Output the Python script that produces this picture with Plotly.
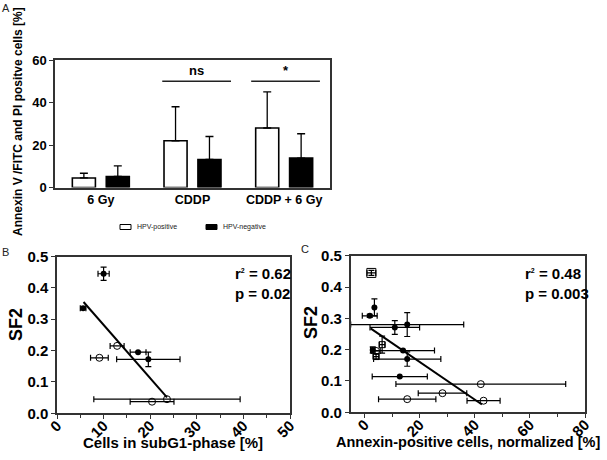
import plotly.graph_objects as go

W, H = 607, 460

# ---------------- Panel A data ----------------
a_categories = ["6 Gy", "CDDP", "CDDP + 6 Gy"]
a_hpv_pos = [4.5, 22.0, 28.0]
a_hpv_pos_err = [2.2, 16.0, 17.0]
a_hpv_neg = [5.2, 13.2, 13.8]
a_hpv_neg_err = [5.0, 10.8, 11.5]
a_sig_labels = ["ns", "*"]
a_sig_x0 = [0.67, 1.64]
a_sig_x1 = [1.42, 2.39]
a_sig_y = [50, 50]

# ---------------- Panel B data ----------------
b_filled_x = [10.0, 5.6, 17.4, 19.6]
b_filled_y = [0.445, 0.335, 0.195, 0.172]
b_filled_xerr = [1.2, 0.6, 1.7, 6.8]
b_filled_yerr = [0.021, 0.004, 0.0, 0.023]
b_open_x = [12.9, 9.1, 23.6, 20.4]
b_open_y = [0.215, 0.177, 0.045, 0.037]
b_open_xerr = [1.5, 1.9, 15.7, 4.7]
b_fit_x = [5.7, 23.6]
b_fit_y = [0.355, 0.051]
b_stats = ["r<sup><span style='font-size:7px'>2</span></sup> = 0.62", "p = 0.02"]

# ---------------- Panel C data ----------------
c_filled_x = [3.6, 1.9, 11.0, 15.5, 3.0, 14.0, 15.5, 12.8]
c_filled_y = [0.335, 0.308, 0.271, 0.280, 0.199, 0.197, 0.170, 0.114]
c_filled_xerr = [0.0, 2.7, 9.0, 20.5, 0.8, 11.4, 12.2, 10.0]
c_filled_yerr = [0.027, 0.005, 0.022, 0.038, 0.01, 0.0, 0.023, 0.0]
c_open_x = [42.2, 28.3, 15.5, 43.2, 4.2]
c_open_y = [0.090, 0.061, 0.042, 0.037, 0.196]
c_open_xerr = [30.8, 8.8, 10.4, 6.0, 1.5]
c_sq_x = [6.4, 4.2]
c_sq_y = [0.216, 0.178]
c_sq_xerr = [1.0, 1.0]
c_sq_yerr = [0.027, 0.008]
c_top_x = [2.5]
c_top_y = [0.445]
c_top_xerr = [1.6]
c_top_yerr = [0.008]
c_fit_x = [2.2, 42.6]
c_fit_y = [0.268, 0.025]
c_stats = ["r<sup><span style='font-size:7px'>2</span></sup> = 0.48", "p = 0.003"]

FONT = "Liberation Sans, Arial, sans-serif"
AX = "#333333"


def px(x):
    return x / W


def py(y):
    return 1 - y / H


fig = go.Figure()

# ---------- Panel A bars ----------
fig.add_trace(go.Bar(
    x=a_categories, y=a_hpv_pos, name="HPV-positive",
    marker=dict(color="white", line=dict(color="black", width=1.6)),
    error_y=dict(type="data", array=a_hpv_pos_err, arrayminus=[0] * 3, symmetric=False,
                 color="black", thickness=1.3, width=4),
    xaxis="x", yaxis="y", showlegend=False))
fig.add_trace(go.Bar(
    x=a_categories, y=a_hpv_neg, name="HPV-negative",
    marker=dict(color="black", line=dict(color="black", width=1.6)),
    error_y=dict(type="data", array=a_hpv_neg_err, arrayminus=[0] * 3, symmetric=False,
                 color="black", thickness=1.3, width=4),
    xaxis="x", yaxis="y", showlegend=False))

shapes = []
annotations = []
for lab, x0, x1, yv in zip(a_sig_labels, a_sig_x0, a_sig_x1, a_sig_y):
    shapes.append(dict(type="line", xref="x", yref="y", x0=x0, x1=x1, y0=yv, y1=yv,
                       line=dict(color="#222", width=1.3)))
    annotations.append(dict(xref="x", yref="y", x=(x0 + x1) / 2, y=yv, text="<b>%s</b>" % lab,
                            showarrow=False, yanchor="bottom", yshift=1,
                            font=dict(family=FONT, size=13, color="black")))

# ---------- Panel B ----------
err_style = dict(type="data", color="black", thickness=1.2, width=3)
fig.add_trace(go.Scatter(x=b_fit_x, y=b_fit_y, mode="lines", line=dict(color="black", width=2),
                         xaxis="x2", yaxis="y2", showlegend=False))
fig.add_trace(go.Scatter(
    x=b_open_x, y=b_open_y, mode="markers",
    marker=dict(symbol="circle-open", size=7, color="black", line=dict(width=1)),
    error_x=dict(array=b_open_xerr, **err_style),
    xaxis="x2", yaxis="y2", showlegend=False))
fig.add_trace(go.Scatter(
    x=b_filled_x, y=b_filled_y, mode="markers",
    marker=dict(symbol="circle", size=6, color="black"),
    error_x=dict(array=b_filled_xerr, **err_style),
    error_y=dict(array=b_filled_yerr, **err_style),
    xaxis="x2", yaxis="y2", showlegend=False))

# ---------- Panel C ----------
fig.add_trace(go.Scatter(x=c_fit_x, y=c_fit_y, mode="lines", line=dict(color="black", width=2),
                         xaxis="x3", yaxis="y3", showlegend=False))
fig.add_trace(go.Scatter(
    x=c_open_x, y=c_open_y, mode="markers",
    marker=dict(symbol="circle-open", size=7, color="black", line=dict(width=1)),
    error_x=dict(array=c_open_xerr, **err_style),
    xaxis="x3", yaxis="y3", showlegend=False))
fig.add_trace(go.Scatter(
    x=c_sq_x, y=c_sq_y, mode="markers",
    marker=dict(symbol="square-open", size=6, color="black", line=dict(width=1)),
    error_x=dict(array=c_sq_xerr, **err_style),
    error_y=dict(array=c_sq_yerr, **err_style),
    xaxis="x3", yaxis="y3", showlegend=False))
fig.add_trace(go.Scatter(
    x=c_top_x, y=c_top_y, mode="markers",
    marker=dict(symbol="square-open-dot", size=9, color="black", line=dict(width=1)),
    error_x=dict(array=c_top_xerr, **err_style),
    error_y=dict(array=c_top_yerr, **err_style),
    xaxis="x3", yaxis="y3", showlegend=False))
fig.add_trace(go.Scatter(
    x=c_filled_x, y=c_filled_y, mode="markers",
    marker=dict(symbol="circle", size=6, color="black"),
    error_x=dict(array=c_filled_xerr, **err_style),
    error_y=dict(array=c_filled_yerr, **err_style),
    xaxis="x3", yaxis="y3", showlegend=False))

# ---------- Legend for A (drawn) ----------
shapes.append(dict(type="rect", xref="paper", yref="paper", x0=px(120), x1=px(131), y0=py(229.5), y1=py(224.5),
                   line=dict(color="black", width=1), fillcolor="white"))
shapes.append(dict(type="rect", xref="paper", yref="paper", x0=px(206), x1=px(217), y0=py(229.5), y1=py(224.5),
                   line=dict(color="black", width=1), fillcolor="black"))
annotations.append(dict(xref="paper", yref="paper", x=px(135), y=py(227), text="HPV-positive", showarrow=False,
                        xanchor="left", yanchor="middle", font=dict(family=FONT, size=7, color="#222")))
annotations.append(dict(xref="paper", yref="paper", x=px(221), y=py(227), text="HPV-negative", showarrow=False,
                        xanchor="left", yanchor="middle", font=dict(family=FONT, size=7, color="#222")))

# panel letters
for letter, x, y in [("A", 6, 8), ("B", 6, 252), ("C", 305, 249)]:
    annotations.append(dict(xref="paper", yref="paper", x=px(x), y=py(y), text=letter, showarrow=False,
                            xanchor="center", yanchor="middle", font=dict(family=FONT, size=11, color="#222")))

# axis titles
annotations.append(dict(xref="paper", yref="paper", x=px(18), y=py(122),
                        text="<b>Annexin V /FITC and PI positve cells [%]</b>", textangle=-90, showarrow=False,
                        xanchor="center", yanchor="middle", font=dict(family=FONT, size=12, color="black")))
annotations.append(dict(xref="paper", yref="paper", x=px(16), y=py(325), text="<b>SF2</b>", textangle=-90,
                        showarrow=False, xanchor="center", yanchor="middle",
                        font=dict(family=FONT, size=18, color="black")))
annotations.append(dict(xref="paper", yref="paper", x=px(311), y=py(323), text="<b>SF2</b>", textangle=-90,
                        showarrow=False, xanchor="center", yanchor="middle",
                        font=dict(family=FONT, size=18, color="black")))
annotations.append(dict(xref="paper", yref="paper", x=px(173), y=py(442), text="<b>Cells in subG1-phase [%]</b>",
                        showarrow=False, xanchor="center", yanchor="middle",
                        font=dict(family=FONT, size=15, color="black")))
annotations.append(dict(xref="paper", yref="paper", x=px(468), y=py(442),
                        text="<b>Annexin-positive cells, normalized [%]</b>",
                        showarrow=False, xanchor="center", yanchor="middle",
                        font=dict(family=FONT, size=14.5, color="black")))

# stats
for i, t in enumerate(b_stats):
    annotations.append(dict(xref="paper", yref="paper", x=px(233), y=py(273 + 20 * i), text="<b>%s</b>" % t,
                            showarrow=False, xanchor="left", yanchor="middle",
                            font=dict(family=FONT, size=15, color="black")))
for i, t in enumerate(c_stats):
    annotations.append(dict(xref="paper", yref="paper", x=px(523), y=py(273 + 20 * i), text="<b>%s</b>" % t,
                            showarrow=False, xanchor="left", yanchor="middle",
                            font=dict(family=FONT, size=15, color="black")))

axis_common = dict(showline=True, linecolor=AX, linewidth=1.5, mirror=True, ticks="outside",
                   tickcolor=AX, tickwidth=1.3, ticklen=4, showgrid=False, zeroline=False,
                   automargin=False)

fig.update_layout(
    width=W, height=H, margin=dict(l=0, r=0, t=0, b=0, autoexpand=False),
    paper_bgcolor="white", plot_bgcolor="white",
    font=dict(family=FONT, color="black"),
    barmode="group", bargap=0.26, bargroupgap=0.32,
    xaxis=dict(domain=[px(55), px(330)], anchor="y", **{**axis_common, "ticks": ""},
               tickfont=dict(family=FONT, size=12.5, weight="bold")),
    yaxis=dict(domain=[py(187.5), py(60)], anchor="x", range=[0, 60], dtick=20, **axis_common,
               tickfont=dict(family=FONT, size=13, weight="bold")),
    xaxis2=dict(domain=[px(57), px(290)], anchor="y2", range=[0, 50], dtick=10, tickangle=-45,
                ticklabelstandoff=-8,
                minor=dict(ticks="outside", dtick=5, ticklen=3, tickcolor=AX),
                tickfont=dict(family=FONT, size=15, weight="bold"), **axis_common),
    yaxis2=dict(domain=[py(413.3), py(256.5)], anchor="x2", range=[0, 0.5], dtick=0.1, tickformat=".1f",
                tickfont=dict(family=FONT, size=15, weight="bold"), **axis_common),
    xaxis3=dict(domain=[px(350.7), px(585)], anchor="y3", range=[-5, 80], tick0=0, dtick=20, tickangle=-45,
                ticklabelstandoff=-8,
                minor=dict(ticks="outside", tick0=0, dtick=10, ticklen=3, tickcolor=AX),
                tickfont=dict(family=FONT, size=15, weight="bold"), **axis_common),
    yaxis3=dict(domain=[py(412.3), py(255.7)], anchor="x3", range=[0, 0.5], dtick=0.1, tickformat=".1f",
                tickfont=dict(family=FONT, size=15, weight="bold"), **axis_common),
    shapes=shapes, annotations=annotations,
)

fig.write_html("out.html", config={"displayModeBar": False},
               post_script="document.body.style.margin='0px';document.body.style.padding='0px';"
                           "document.body.style.overflow='hidden';")
